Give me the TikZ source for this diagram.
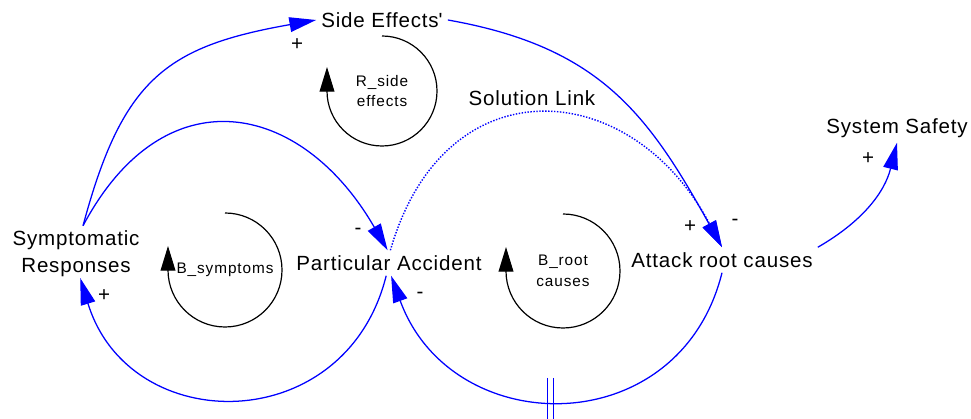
\documentclass[tikz,border=0pt]{standalone}
\usepackage{fontspec}
\setmainfont{Liberation Sans}
\usepackage{tikz}
\usetikzlibrary{arrows.meta, positioning, calc}
\usepackage{xcolor}
\definecolor{cldBlue}{RGB}{0, 0, 255}
\definecolor{cldBlack}{RGB}{0, 0, 0}

\begin{document}
\begin{tikzpicture}[
    x=0.025cm, y=0.025cm,
    cldvar/.style={
        font=\fontsize{14.6}{19.2}\selectfont\addfontfeature{LetterSpace=4},
        align=center,
        inner sep=3.5pt,
        text=cldBlack
    },
    looplabel/.style={
        font=\fontsize{10.9}{14.8}\selectfont\addfontfeature{LetterSpace=6},
        align=center,
        inner sep=1pt
    },
    polarity/.style={
        font=\fontsize{14.6}{16}\selectfont,
        inner sep=0pt
    },
    link/.style={
        draw=cldBlue,
        line width=0.9pt,
        -{Triangle[length=19pt, width=10.5pt]}
    },
    sollink/.style={
        link,
        line width=1pt,
        dash pattern=on 1pt off 1.1pt
    },
    loopline/.style={
        draw=cldBlack,
        line width=0.85pt,
        -{Triangle[length=17.5pt, width=10.5pt]}
    },
    delay/.style={
        draw=cldBlue,
        line width=1pt
    }
]

\useasboundingbox (0,0) rectangle (971,419);

% Variables
\node[cldvar] (side) at (382, 399) {Side Effects\textquotesingle};
\node[cldvar] (symp) at (76, 165) {Symptomatic\\Responses};
\node[cldvar] (acc) at (389, 156) {Particular Accident};
\node[cldvar] (root) at (722, 159) {Attack root causes};
\node[cldvar] (safety) at (897, 291) {System Safety};
\node[cldvar] (sollabel) at (532, 321) {Solution Link};

% Loop markers
\node[looplabel] (rside) at (382, 328) {R\_side\\effects};
\node[looplabel] (bsymp) at (225, 149) {B\_symptoms};
\node[looplabel] (broot) at (563, 148) {B\_root\\causes};

\draw[loopline] (rside.center) ++(0,55) arc[start angle=90, end angle=-180, radius=55] -- ++(0,24);
\draw[loopline] (bsymp.center) ++(0,57) arc[start angle=90, end angle=-180, radius=57] -- ++(0,24);
\draw[loopline] (broot.center) ++(0,57) arc[start angle=90, end angle=-180, radius=57] -- ++(0,24);

% Causal links
\draw[sollink] ([xshift=1pt]acc.north) to[out=74, in=118, looseness=1.5] (root.north);
\draw[link] ([xshift=5pt]symp.north) to[out=75, in=190, looseness=1.25] (side.west);
\draw[link] (side.east) to[out=-10, in=119, looseness=1.1] (root.north);
\draw[link] ([xshift=5pt]symp.north) to[out=62, in=120, looseness=1.45] ([xshift=-1pt]acc.north);
\draw[link] ([xshift=-2pt]acc.south) to[out=-104, in=-73, looseness=1.4] ([xshift=3pt, yshift=3pt]symp.south);
\draw[link] (root.south) to[out=-104, in=-70, looseness=1.36] coordinate[pos=0.53] (dly) ([xshift=1.5pt]acc.south);
\draw[link] (root.north east) to[out=30, in=256] (safety.south);

% Delay mark
\draw[delay] ($(dly)+(-3,22)$) -- ($(dly)+(-3,-20)$);
\draw[delay] ($(dly)+(3,22)$) -- ($(dly)+(3,-20)$);

% Polarities
\node[polarity] (pol1) at (297, 374) {+};
\node[polarity] (pol2) at (690, 192) {+};
\node[polarity] (pol3) at (735, 197) {-};
\node[polarity] (pol4) at (358, 188) {-};
\node[polarity] (pol5) at (104, 123) {+};
\node[polarity] (pol6) at (420, 124) {-};
\node[polarity] (pol7) at (868, 260) {+};

\end{tikzpicture}
\end{document}
